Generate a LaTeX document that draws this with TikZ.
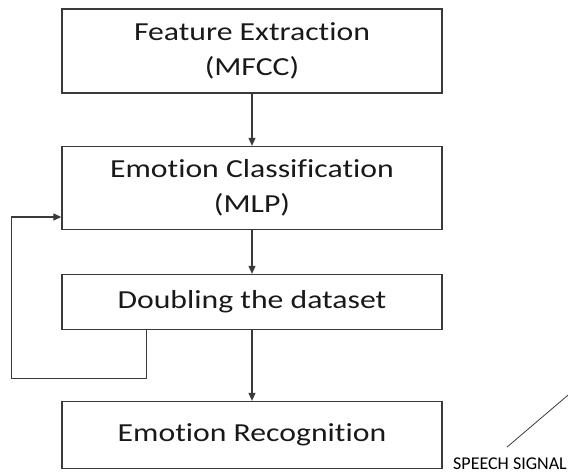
\documentclass[tikz,border=0pt]{standalone}
\usepackage{fontspec}
\setmainfont{Carlito}[Ligatures=NoCommon]
\newfontfamily\boxfont[FakeStretch=1.22, Ligatures=NoCommon]{Carlito}
\usetikzlibrary{arrows.meta}
\definecolor{linegray}{HTML}{3A3A3A}

\begin{document}
\begin{tikzpicture}[x=1pt, y=-1pt,
    block/.style={draw=linegray, line width=1.3pt, minimum width=380pt, inner sep=0pt,
        align=center, text=black!90, font=\boxfont\fontsize{26}{35}\selectfont},
    flow/.style={draw=linegray, line width=1.1pt, -{Triangle[length=8pt, width=7pt]}}]

    % Page frame (y runs downwards)
    \clip (0,0) rectangle (568,474);

    % Blocks
    \node[block, minimum height=84pt] (feat) at (252,51) {Feature Extraction\\(MFCC)};
    \node[block, minimum height=83pt] (cls) at (252,188) {Emotion Classification\\(MLP)};
    \node[block, minimum height=55pt] (dbl) at (252,302) {Doubling the dataset};
    \node[block, minimum height=67pt] (rec) at (252,435) {Emotion Recognition};

    % Main flow
    \draw[flow] (feat.south) -- (cls.north);
    \draw[flow] (cls.south) -- (dbl.north);
    \draw[flow] (dbl.south) -- (rec.north);

    % Feedback loop back into the classifier
    \coordinate (loopin) at ([yshift=-29pt]cls.west);
    \draw[flow] ([xshift=85pt]dbl.south west) -- ++(0,48) -| ([xshift=-50pt]loopin) -- (loopin);

    % Signal label in the corner
    \node[anchor=base west, inner sep=0pt, font=\fontsize{18}{20}\selectfont] (sig) at (453,469) {SPEECH SIGNAL};
    \coordinate (sigfar) at (574,390);
    \draw[linegray, line width=0.8pt] ([xshift=-3pt, yshift=10pt]sig.north) -- (sigfar);

\end{tikzpicture}
\end{document}
